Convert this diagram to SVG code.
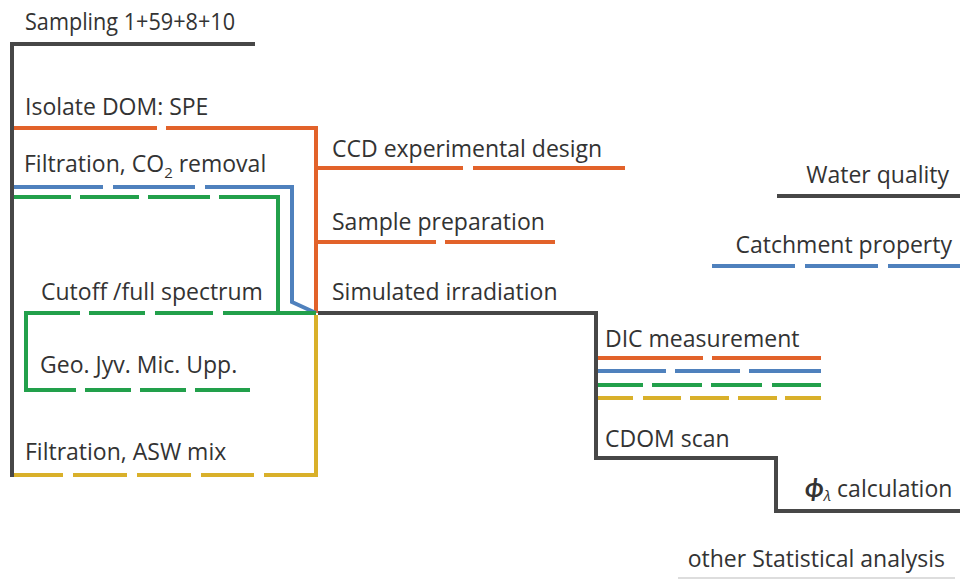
<svg xmlns="http://www.w3.org/2000/svg" width="960" height="580" viewBox="0 0 960 580">
<style>
.l{fill:none;stroke-width:4;stroke-linejoin:miter;stroke-linecap:butt}
.k{stroke:#474747}
.o{stroke:#e2622a}
.b{stroke:#4f81bd}
.g{stroke:#22a04b}
.y{stroke:#d9b02a}
text{font-family:"Open Sans",Lato,sans-serif;font-size:23px;fill:#333}
.r{text-anchor:end}
</style>
<rect width="960" height="580" fill="#fff"/>
<g id="connectors">
<path class="l o" d="M12,128 H157 M166,128 H316 V313 M316,168 H463 M473,168 H625 M316,242 H436 M445,242 H555"/>
<path class="l b" d="M12,187 H103 M113,187 H195 M205,187 H292 V302 L316,313"/>
<path class="l g" d="M12,197 H71 M80,197 H139 M148,197 H210 M219,197 H278 V313 M316,313 H223 M213,313 H155 M145,313 H89 M80,313 H26 V390 H76 M85,390 H131 M140,390 H186 M195,390 H250"/>
<path class="l y" d="M316,315 V475 H264 M254,475 H201 M191,475 H137 M127,475 H73 M63,475 H12"/>
<path class="l k" d="M255,44 H12 V477"/>
<path class="l k" d="M318,313 H596 V458 H776 V511 H960"/>
<path class="l k" d="M777,196 H960"/>
<path class="l b" d="M712,266 H795 M805,266 H878 M888,266 H960"/>
<path class="l o" d="M598,358 H703 M712,358 H821"/>
<path class="l b" d="M598,371 H666 M675,371 H740 M749,371 H821"/>
<path class="l g" d="M598,385 H643 M652,385 H702 M711,385 H762 M772,385 H821"/>
<path class="l y" d="M598,398 H633 M643,398 H681 M690,398 H729 M738,398 H777 M785,398 H821"/>
<path fill="none" stroke="#dddddd" stroke-width="2" d="M678,578 H955"/>
</g>
<g id="sampling"><text x="25" y="30" textLength="210" lengthAdjust="spacingAndGlyphs">Sampling 1+59+8+10</text></g>
<g id="isolate"><text x="25" y="115">Isolate DOM: SPE</text></g>
<g id="filtration-co2"><text x="24" y="172">Filtration, CO<tspan font-size="15" dy="6">2</tspan><tspan dy="-6"> removal</tspan></text></g>
<g id="ccd"><text x="332" y="157">CCD experimental design</text></g>
<g id="sample-prep"><text x="332" y="230">Sample preparation</text></g>
<g id="irradiation"><text x="332" y="300">Simulated irradiation</text></g>
<g id="cutoff"><text x="41" y="300">Cutoff /full spectrum</text></g>
<g id="sites"><text x="40" y="373">Geo. Jyv. Mic. Upp.</text></g>
<g id="filtration-asw"><text x="25" y="460">Filtration, ASW mix</text></g>
<g id="water-quality"><text class="r" x="949" y="183">Water quality</text></g>
<g id="catchment"><text class="r" x="952" y="253">Catchment property</text></g>
<g id="dic"><text x="605" y="347">DIC measurement</text></g>
<g id="cdom"><text x="605" y="447">CDOM scan</text></g>
<g id="phi"><text x="805" y="497"><tspan font-style="italic" font-weight="bold" font-size="26">ϕ</tspan><tspan font-size="15" dy="4" font-style="italic">λ</tspan><tspan dy="-4"> calculation</tspan></text></g>
<g id="stats"><text class="r" x="945" y="567">other Statistical analysis</text></g>
</svg>
